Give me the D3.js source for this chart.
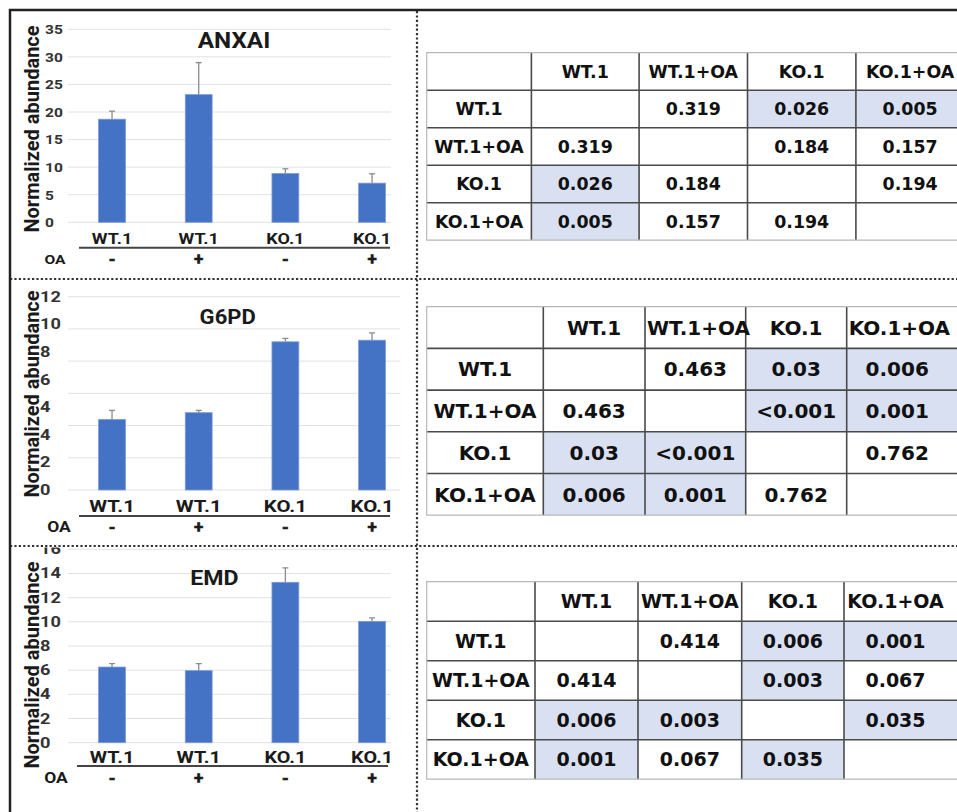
<!DOCTYPE html>
<html>
<head>
<meta charset="utf-8">
<script src="https://cdn.jsdelivr.net/npm/d3@7"></script>
<style>
  body { margin: 0; background: #fff; }
  svg { display: block; }
</style>
</head>
<body>
<svg id="fig"></svg>
<script>
// ---- data ----
const barLabels = ["WT.1", "WT.1", "KO.1", "KO.1"];
const oaSigns = ["-", "+", "-", "+"];
const groupNames = ["WT.1", "WT.1+OA", "KO.1", "KO.1+OA"];

const anxaiMeans = [18.7, 23.15, 8.85, 7.1];
const anxaiErrors = [1.45, 5.8, 0.85, 1.7];
const anxaiTicks = [0, 5, 10, 15, 20, 25, 30, 35];

const g6pdMeans = [4.38, 4.8, 9.2, 9.3];
const g6pdErrors = [0.56, 0.14, 0.21, 0.45];
const g6pdTicks = [0, 2, 4, 6, 8, 10, 12];
const g6pdTickLabels = ["12", "10", "8", "6", "4", "4", "2", "0"];

const emdMeans = [6.26, 5.96, 13.27, 10.04];
const emdErrors = [0.28, 0.58, 1.19, 0.28];
const emdTicks = [0, 2, 4, 6, 8, 10, 12, 14, 16];

const anxaiP = [
    ["", "0.319", "0.026", "0.005"],
    ["0.319", "", "0.184", "0.157"],
    ["0.026", "0.184", "", "0.194"],
    ["0.005", "0.157", "0.194", ""]
];
const g6pdP = [
    ["", "0.463", "0.03", "0.006"],
    ["0.463", "", "<0.001", "0.001"],
    ["0.03", "<0.001", "", "0.762"],
    ["0.006", "0.001", "0.762", ""]
];
const emdP = [
    ["", "0.414", "0.006", "0.001"],
    ["0.414", "", "0.003", "0.067"],
    ["0.006", "0.003", "", "0.035"],
    ["0.001", "0.067", "0.035", ""]
];

// ---- layout ----
const W = 957, H = 812;
const svg = d3.select('#fig').attr('width', W).attr('height', H);
const defs = svg.append('defs');

const panels = [
    {id: 'anxai', title: 'ANXAI', means: anxaiMeans, errors: anxaiErrors, ticks: anxaiTicks, tickLabels: null,
     clip: [11, 11, 406, 267], y0: 222.3, yTop: 29.3, gridRight: 391, titleX: 234, titleY: 48, titleSize: 21.5,
     tickX: 45, tickSize: 13.5, tickSx: 1.15, yTitleY: 129, labelY: 244, labelSize: 15,
     sepY: 247.7, sepX: [79, 390], oaY: 264.3, oaX: 55, oaSize: 12.5,
     table: {top: 52.7, rowH: 37.5, cols: [104.7, 107.7, 108.4, 108.4, 108.4], font: 17.4, p: anxaiP}},
    {id: 'g6pd', title: 'G6PD', means: g6pdMeans, errors: g6pdErrors, ticks: g6pdTicks, tickLabels: g6pdTickLabels,
     clip: [11, 280, 406, 265], y0: 490, yTop: 296.7, gridRight: 400, titleX: 227.7, titleY: 324.3, titleSize: 19.5,
     tickX: 40, tickSize: 14, tickSx: 1.3, yTitleY: 394, labelY: 512.3, labelSize: 17,
     sepY: 516, sepX: [79, 390], oaY: 532.3, oaX: 59, oaSize: 14,
     table: {top: 306.7, rowH: 41.7, cols: [116.6, 101.7, 100.7, 101, 101], font: 20, p: g6pdP}},
    {id: 'emd', title: 'EMD', means: emdMeans, errors: emdErrors, ticks: emdTicks, tickLabels: null,
     clip: [11, 547.5, 406, 265], y0: 742.7, yTop: 549.3, gridRight: 391, titleX: 214.3, titleY: 585, titleSize: 20.5,
     tickX: 40, tickSize: 14, tickSx: 1.3, yTitleY: 665, labelY: 763.3, labelSize: 16.5,
     sepY: 766, sepX: [77, 388], oaY: 783.3, oaX: 56, oaSize: 14,
     table: {top: 581.7, rowH: 39.5, cols: [108.3, 103, 103.7, 102.3, 103], font: 19, p: emdP}}
];

const barColor = '#4472C4';
const inkColor = '#1a1a1a';
const chartFont = 'Roboto, "Noto Sans", sans-serif';
const tableFont = '"DejaVu Sans", sans-serif';
const titleSx = 1.13, labelSx = 1.2;

panels.forEach(p => {
    drawChart(p);
    drawTable(p.table);
});
drawFrame();

// text placed through a transform so it can be widened a little like the source image
function placeText(sel, x, y, sx) {
    return sel.attr('transform', `translate(${x},${y}) scale(${sx},1)`);
}

function drawChart(p) {
    defs.append('clipPath').attr('id', 'clip-' + p.id)
        .append('rect').attr('x', p.clip[0]).attr('y', p.clip[1])
        .attr('width', p.clip[2]).attr('height', p.clip[3]);
    const g = svg.append('g').attr('clip-path', `url(#clip-${p.id})`);

    const yMax = d3.max(p.ticks);
    const y = d3.scaleLinear().domain([0, yMax]).range([p.y0, p.yTop]);
    const x = d3.scaleBand().domain(d3.range(barLabels.length)).range([68.7, 415.4])
        .paddingInner(0.69).paddingOuter(0.345);
    const cx = i => x(i) + x.bandwidth() / 2;

    // gridlines
    g.append('g').selectAll('line').data(p.ticks).join('line')
        .attr('x1', 68).attr('x2', p.gridRight)
        .attr('y1', d => y(d)).attr('y2', d => y(d))
        .attr('stroke', '#e2e2e2').attr('stroke-width', 1);

    // y tick labels (left aligned, like the source)
    let axis;
    if (p.tickLabels) {
        const lab = d3.scalePoint().domain(p.tickLabels.map((d, i) => i)).range([p.yTop, p.y0]);
        axis = d3.axisLeft(lab).tickSize(0).tickFormat(i => p.tickLabels[i]);
    } else {
        axis = d3.axisLeft(y).tickValues(p.ticks).tickSize(0).tickFormat(d3.format('d'));
    }
    const axG = g.append('g').attr('transform', `translate(${p.tickX},0)`).call(axis);
    axG.select('.domain').remove();
    axG.selectAll('text')
        .attr('x', 0).attr('text-anchor', 'start')
        .attr('transform', `scale(${p.tickSx},1)`)
        .attr('font-family', chartFont).attr('font-size', p.tickSize)
        .attr('font-weight', 700).attr('fill', '#333');

    // y axis title
    g.append('text')
        .attr('transform', `translate(39,${p.yTitleY}) rotate(-90)`)
        .attr('text-anchor', 'middle')
        .attr('font-family', chartFont).attr('font-size', 20).attr('font-weight', 700)
        .attr('fill', inkColor)
        .text('Normalized abundance');

    // title
    placeText(g.append('text'), p.titleX, p.titleY, titleSx)
        .attr('text-anchor', 'middle')
        .attr('font-family', chartFont).attr('font-size', p.titleSize).attr('font-weight', 700)
        .attr('fill', inkColor).text(p.title);

    // bars
    g.append('g').selectAll('rect').data(p.means).join('rect')
        .attr('x', (d, i) => x(i)).attr('width', x.bandwidth())
        .attr('y', d => y(d)).attr('height', d => p.y0 - y(d))
        .attr('fill', barColor).attr('stroke', '#7d9bd6').attr('stroke-width', 0.8);

    // error bars (upper only)
    const eb = g.append('g').attr('stroke', '#8c8c8c').attr('stroke-width', 1.3);
    p.means.forEach((m, i) => {
        const top = y(m + p.errors[i]);
        eb.append('line').attr('x1', cx(i)).attr('x2', cx(i)).attr('y1', y(m)).attr('y2', top);
        eb.append('line').attr('x1', cx(i) - 3).attr('x2', cx(i) + 3).attr('y1', top).attr('y2', top);
    });

    // category labels
    g.append('g').selectAll('text').data(barLabels).join('text')
        .attr('transform', (d, i) => `translate(${cx(i)},${p.labelY}) scale(${labelSx},1)`)
        .attr('text-anchor', 'middle')
        .attr('font-family', chartFont).attr('font-size', p.labelSize).attr('font-weight', 700)
        .attr('fill', inkColor).text(d => d);

    g.append('line').attr('x1', p.sepX[0]).attr('x2', p.sepX[1])
        .attr('y1', p.sepY).attr('y2', p.sepY)
        .attr('stroke', '#444').attr('stroke-width', 2);

    // OA row
    placeText(g.append('text'), p.oaX, p.oaY, 1.25).attr('text-anchor', 'middle')
        .attr('font-family', chartFont).attr('font-size', p.oaSize).attr('font-weight', 700)
        .attr('fill', inkColor).text('OA');
    g.append('g').selectAll('text').data(oaSigns).join('text')
        .attr('transform', (d, i) => `translate(${cx(i)},${p.oaY + 1})`)
        .attr('text-anchor', 'middle')
        .attr('font-family', chartFont).attr('font-size', 17).attr('font-weight', 700)
        .attr('fill', inkColor).attr('stroke', inkColor).attr('stroke-width', 0.6)
        .text(d => d);
}

function drawTable(t) {
    const left = 426.7, right = 962;
    const colLeft = [left];
    t.cols.forEach((w, i) => colLeft.push(colLeft[i] + w));
    const nRows = groupNames.length + 1;
    const y = d3.scaleBand().domain(d3.range(nRows)).range([t.top, t.top + t.rowH * nRows]);
    const g = svg.append('g');

    const cells = [];
    for (let r = 0; r < nRows; r++) {
        for (let c = 0; c < t.cols.length; c++) {
            let text;
            if (r === 0) text = c === 0 ? '' : groupNames[c - 1];
            else text = c === 0 ? groupNames[r - 1] : t.p[r - 1][c - 1];
            const pv = (r > 0 && c > 0 && text) ? +text.replace('<', '') : null;
            cells.push({r, c, text, shade: pv !== null && pv < 0.05});
        }
    }

    g.selectAll('rect').data(cells).join('rect')
        .attr('x', d => colLeft[d.c])
        .attr('width', d => d.c === t.cols.length - 1 ? right - colLeft[d.c] : t.cols[d.c])
        .attr('y', d => y(d.r)).attr('height', y.bandwidth())
        .attr('fill', d => d.shade ? '#d9e0f1' : '#fff');

    // inner lines
    const bottom = t.top + t.rowH * nRows;
    g.append('g').selectAll('line').data(d3.range(1, nRows)).join('line')
        .attr('x1', left).attr('x2', right)
        .attr('y1', d => y(d)).attr('y2', d => y(d))
        .attr('stroke', '#4a4a4a').attr('stroke-width', 1.6);
    g.append('g').selectAll('line').data(d3.range(1, t.cols.length)).join('line')
        .attr('x1', d => colLeft[d]).attr('x2', d => colLeft[d])
        .attr('y1', t.top).attr('y2', bottom)
        .attr('stroke', '#4a4a4a').attr('stroke-width', 1.6);
    // outer border
    g.append('path')
        .attr('d', `M${right},${t.top}H${left}V${bottom}H${right}`)
        .attr('fill', 'none').attr('stroke', '#b8b8b8').attr('stroke-width', 1.2);

    const txt = g.append('g').selectAll('text').data(cells.filter(d => d.text)).join('text')
        .attr('y', d => y(d.r) + y.bandwidth() / 2)
        .attr('dy', '0.36em')
        .attr('text-anchor', 'middle')
        .attr('font-family', tableFont).attr('font-size', t.font).attr('font-weight', 700)
        .attr('fill', '#111').text(d => d.text);
    // keep wide header text clear of the left cell line
    txt.attr('x', function (d) {
        const w = this.getComputedTextLength();
        return Math.max(colLeft[d.c] + t.cols[d.c] / 2, colLeft[d.c] + 2 + w / 2);
    });
}

function drawFrame() {
    const f = svg.append('g');
    const dots = {stroke: '#333', 'stroke-width': 2.2, 'stroke-dasharray': '2.2,2.2'};
    [279, 546].forEach(yy => {
        const l = f.append('line').attr('x1', 10).attr('x2', W).attr('y1', yy).attr('y2', yy);
        Object.entries(dots).forEach(([k, v]) => l.attr(k, v));
    });
    const v = f.append('line').attr('x1', 417).attr('x2', 417).attr('y1', 11).attr('y2', H);
    Object.entries(dots).forEach(([k, val]) => v.attr(k, val));
    f.append('path').attr('d', `M10,${H}V10H${W}`)
        .attr('fill', 'none').attr('stroke', '#222').attr('stroke-width', 2.5);
}
</script>
</body>
</html>
